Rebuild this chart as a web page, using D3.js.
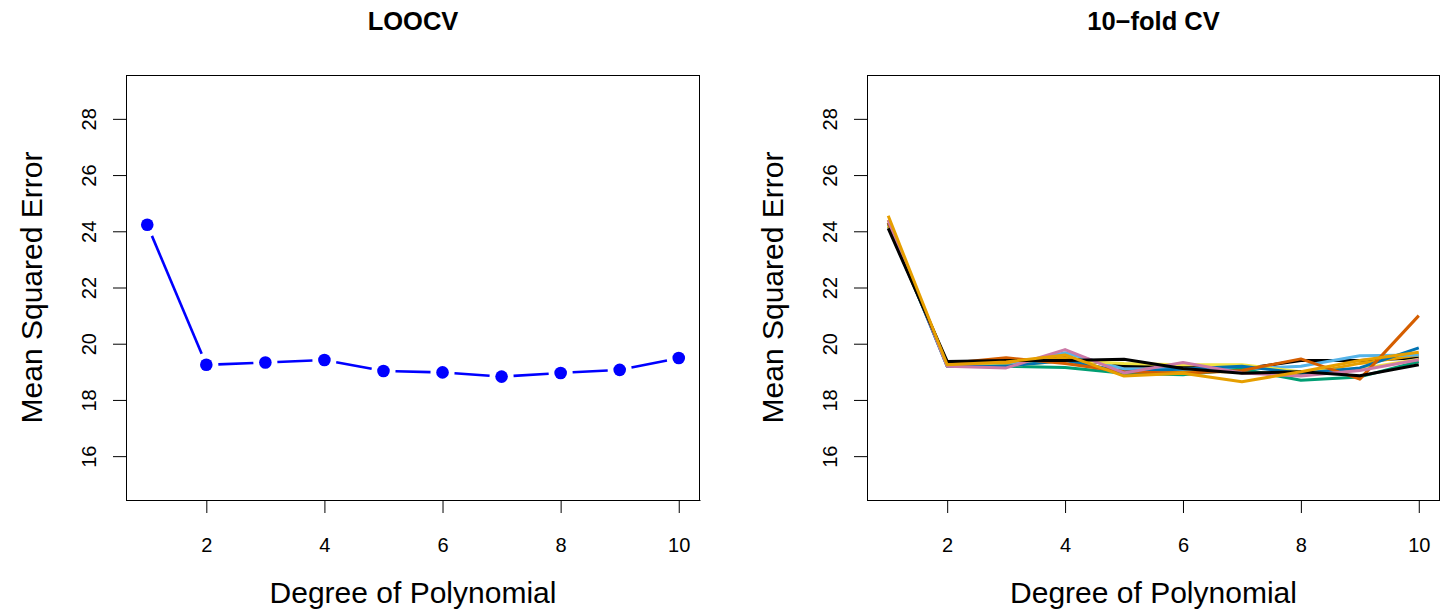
<!DOCTYPE html>
<html><head><meta charset="utf-8">
<script src="https://cdn.jsdelivr.net/npm/d3@7"></script>
<style>
body{margin:0;background:#fff;}
svg{display:block;font-family:"Liberation Sans",Arial,Helvetica,sans-serif;}
</style></head>
<body>
<svg id="c" width="1440" height="610"></svg>
<script>
const degrees = [1,2,3,4,5,6,7,8,9,10];
const xTicks = [2,4,6,8,10];
const yTicks = [16,18,20,22,24,26,28];
const looMSE = [24.23,19.25,19.33,19.42,19.03,18.98,18.83,18.96,19.07,19.49];
const cvColors = ["#000000","#E69F00","#56B4E9","#009E73","#F0E442","#0072B2","#D55E00","#CC79A7","#000000","#E69F00"];
const cv1  = [24.20,19.30,19.30,19.50,19.20,19.20,19.10,19.40,19.40,19.50];
const cv2  = [24.40,19.20,19.30,19.50,18.90,19.00,19.00,18.90,19.30,19.60];
const cv3  = [24.30,19.20,19.20,19.68,19.10,19.10,19.10,19.20,19.57,19.60];
const cv4  = [24.30,19.25,19.20,19.15,18.95,18.90,19.10,18.70,18.82,19.37];
const cv5  = [24.20,19.30,19.20,19.40,19.30,19.25,19.25,19.00,19.10,19.45];
const cv6  = [24.30,19.20,19.20,19.40,19.00,19.10,19.20,18.95,19.14,19.85];
const cv7  = [24.30,19.30,19.50,19.30,19.00,18.95,19.05,19.46,18.74,21.00];
const cv8  = [24.40,19.20,19.14,19.79,18.96,19.33,18.96,18.85,19.05,19.43];
const cv9  = [24.10,19.37,19.40,19.40,19.45,19.12,18.95,19.00,18.86,19.25];
const cv10 = [24.55,19.25,19.35,19.60,18.85,18.95,18.65,19.00,19.40,19.70];
const cvSeries = [cv1,cv2,cv3,cv4,cv5,cv6,cv7,cv8,cv9,cv10];

const svg = d3.select("#c");
const plotTop = 75, plotBottom = 500;
const y = d3.scaleLinear().domain([14.44,29.56]).range([plotBottom, plotTop]);
const FONT = "Liberation Sans, Arial, sans-serif";

function panel(x0, x1, title){
  const x = d3.scaleLinear().domain([0.64,10.36]).range([x0, x1]);
  const g = svg.append("g");
  const ya = g.append("g").attr("transform",`translate(${x0},0)`)
    .call(d3.axisLeft(y).tickValues(yTicks).tickSize(13).tickSizeOuter(0))
    .attr("font-size",20).attr("font-family",FONT);
  ya.select(".domain").attr("stroke","#000");
  ya.selectAll(".tick line").attr("stroke","#000");
  ya.selectAll(".tick text").attr("x",null).attr("dy",null)
    .attr("transform","translate(-30,0) rotate(-90)")
    .attr("text-anchor","middle").attr("fill","#000");
  const xa = g.append("g").attr("transform",`translate(0,${plotBottom})`)
    .call(d3.axisBottom(x).tickValues(xTicks).tickSize(13).tickSizeOuter(0))
    .attr("font-size",20).attr("font-family",FONT);
  xa.select(".domain").attr("stroke","#000");
  xa.selectAll(".tick line").attr("stroke","#000");
  xa.selectAll(".tick text").attr("y",null).attr("dy",null)
    .attr("transform","translate(0,52)")
    .attr("text-anchor","middle").attr("fill","#000");
  g.append("rect").attr("x",x0+0.5).attr("y",plotTop+0.5).attr("width",x1-x0-1).attr("height",plotBottom-plotTop)
    .attr("fill","none").attr("stroke","#000").attr("stroke-width",1);
  g.append("text").attr("x",(x0+x1)/2).attr("y",30).attr("text-anchor","middle")
    .style("font-size","25.5px").style("font-weight","bold").text(title);
  g.append("text").attr("x",(x0+x1)/2).attr("y",603).attr("text-anchor","middle")
    .style("font-size","30px").text("Degree of Polynomial");
  g.append("text").attr("transform",`translate(${x0-84},${(plotTop+plotBottom)/2}) rotate(-90)`)
    .attr("text-anchor","middle").style("font-size","30px").text("Mean Squared Error");
  return {g, x};
}

// Left panel: LOOCV
const L = panel(126, 700, "LOOCV");
const pts = degrees.map((d,i)=>[L.x(d), y(looMSE[i])]);
const gap = 12;
const segs = [];
for(let i=0;i<pts.length-1;i++){
  const [ax,ay]=pts[i],[bx,by]=pts[i+1];
  const len=Math.hypot(bx-ax,by-ay), ux=(bx-ax)/len, uy=(by-ay)/len;
  segs.push([ax+ux*gap, ay+uy*gap, bx-ux*gap, by-uy*gap]);
}
L.g.selectAll("line.seg").data(segs).join("line").attr("class","seg")
  .attr("x1",d=>d[0]).attr("y1",d=>d[1]).attr("x2",d=>d[2]).attr("y2",d=>d[3])
  .attr("stroke","#0000FF").attr("stroke-width",2.6);
L.g.selectAll("circle").data(looMSE).join("circle")
  .attr("cx",(d,i)=>L.x(degrees[i])).attr("cy",d=>y(d)).attr("r",6.3).attr("fill","#0000FF");

// Right panel: 10-fold CV
const R = panel(867, 1440, "10\u2212fold CV");
const line = d3.line().x((d,i)=>R.x(degrees[i])).y(d=>y(d));
R.g.selectAll("path.cv").data(cvSeries).join("path").attr("class","cv")
  .attr("d",line).attr("fill","none").attr("stroke",(d,i)=>cvColors[i])
  .attr("stroke-width",3).attr("stroke-linejoin","round");
</script>
</body></html>
